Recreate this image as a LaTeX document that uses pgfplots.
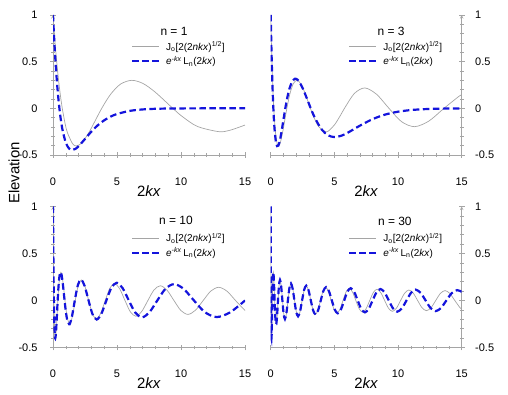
\documentclass[border=0pt]{standalone}
\usepackage{pgfplots}
\pgfplotsset{compat=1.18}
\usepackage{fontspec}
\setmainfont{Liberation Sans}
\definecolor{bl}{RGB}{20,20,220}
\definecolor{gr}{RGB}{165,165,165}
\definecolor{ax}{RGB}{165,165,165}
\pgfplotsset{
  panel/.style={
    scale only axis, width=192bp, height=140bp,
    xmin=0, xmax=15, ymin=-0.5, ymax=1,
    xtick={0,5,10,15}, ytick={-0.5,0,0.5,1},
    minor x tick num=4, minor y tick num=4,
    axis x line=bottom,
    axis line style={-, draw=ax, line width=0.6bp},
    every tick/.style={draw=ax, line width=0.5bp},
    tick align=center, major tick length=6bp, minor tick length=4bp,
    /pgf/number format/assume math mode=true,
    tick label style={font=\fontsize{11}{13}\selectfont},
    xticklabel style={yshift=-16bp},
    xlabel={2\textit{kx}},
    xlabel style={font=\fontsize{15}{18}\selectfont, at={(axis description cs:0.5,0)}, anchor=center, yshift=-36bp},
    legend style={draw=none, fill=none, at={(axis description cs:0.405,0.82)}, anchor=north west,
      font=\fontsize{10}{11}\selectfont, row sep=2.5bp, column sep=5bp, inner sep=0pt, nodes={inner sep=1bp}},
    legend cell align=left,
    legend image code/.code={\draw[#1] (0bp,0bp) -- (27bp,0bp);},
  },
  leftp/.style={panel, axis y line=left, yticklabel style={xshift=-9bp}},
  rightp/.style={panel, axis y line=right, yticklabel style={xshift=7bp}},
  gline/.style={draw=gr, line width=0.7bp, smooth, mark=none},
  bline/.style={draw=bl, line width=2.2bp, dash pattern=on 6.5bp off 3.5bp, smooth, mark=none},
}
\newcommand{\legJ}{J\textsubscript{o}[2(2\textit{nkx})\textsuperscript{1/2}]}
\newcommand{\legL}{\textit{e}\textsuperscript{\textit{-kx}}\,L\textsubscript{n}(2\textit{kx})}
\begin{document}
\begin{tikzpicture}
\path[use as bounding box] (0bp,0bp) rectangle (508bp,395bp);
\node[rotate=90, font=\fontsize{15}{18}\selectfont] at (14bp,222bp) {Elevation};

% ---------------- n = 1
\begin{axis}[leftp, at={(53bp,240bp)}, anchor=south west]
\addplot[gline] coordinates {(0,1) (0.0078,0.9844) (0.0313,0.9385) (0.0703,0.8642) (0.125,0.7652) (0.1953,0.6459) (0.2813,0.5118) (0.3828,0.3690) (0.5,0.2239) (0.6328,0.0827) (0.7229,0) (0.9453,-0.1641) (1.125,-0.2601) (1.5313,-0.3801) (1.8353,-0.4028) (2.2578,-0.3691) (2.8203,-0.2551) (3.125,-0.1776) (3.8089,0) (4.5,0.1506) (5.2813,0.2601) (6.1523,0.3001) (7.0313,0.2663) (8.0,0.1717) (9.3608,0) (10.125,-0.0903) (11.2813,-0.1939) (12.9375,-0.2497) (13.7813,-0.2366) (15.0,-0.1793)};
\addlegendentry{\legJ}
\addplot[bline] coordinates {(0,1) (0.1,0.7239) (0.2,0.4912) (0.3,0.2963) (0.4,0.1341) (0.5,0) (0.6,-0.1098) (0.75,-0.2362) (1.0,-0.3679) (1.25,-0.4298) (1.5,-0.4463) (1.75,-0.4344) (2.0,-0.4060) (2.5,-0.3283) (3.0,-0.2489) (3.5,-0.1812) (4.0,-0.1282) (4.5,-0.0889) (5.0,-0.0606) (6.0,-0.0273) (7.0,-0.0119) (8.0,-0.0050) (9.0,-0.0021) (10.0,-0.0009) (12.0,-0.0001) (15.0,0)};
\addlegendentry{\legL}
\node[font=\fontsize{12}{14}\selectfont] at (axis description cs:0.63,0.885) {n = 1};
\end{axis}

% ---------------- n = 3
\begin{axis}[rightp, at={(270.7bp,240bp)}, anchor=south west, width=191bp]
\addplot[gline] coordinates {(0,1) (0.0104,0.9385) (0.0234,0.8642) (0.0417,0.7652) (0.0651,0.6459) (0.0938,0.5118) (0.1276,0.3690) (0.1667,0.2239) (0.2109,0.0827) (0.2410,0) (0.3151,-0.1641) (0.375,-0.2601) (0.5104,-0.3801) (0.6117,-0.4028) (0.7526,-0.3691) (0.9401,-0.2551) (1.0417,-0.1776) (1.2696,0) (1.5,0.1506) (1.7604,0.2601) (2.0508,0.3001) (2.3438,0.2663) (2.6667,0.1717) (3.1203,0) (3.375,-0.0903) (3.7604,-0.1939) (4.3125,-0.2497) (4.5938,-0.2366) (5.0417,-0.1712) (5.5104,-0.0677) (5.7933,0) (6.5706,0.1592) (7.3967,0.2184) (8.3160,0.1501) (9.2887,0) (10.2714,-0.1424) (11.3034,-0.1965) (12.4284,-0.1358) (13.6070,0) (14.7950,0.1300) (15.0,0.1438)};
\addlegendentry{\legJ}
\addplot[bline] coordinates {(0,1) (0.05,0.6800) (0.1,0.4150) (0.15,0.1984) (0.2,0.0240) (0.25,-0.1136) (0.3,-0.2193) (0.4,-0.3521) (0.5,-0.4044) (0.6,-0.3995) (0.7,-0.3562) (0.8,-0.2888) (0.9,-0.2082) (1.0,-0.1226) (1.1,-0.0382) (1.2,0.0410) (1.35,0.1438) (1.5,0.2231) (1.7,0.2903) (1.9,0.3163) (2.0,0.3158) (2.2,0.2928) (2.5,0.2189) (2.8,0.1198) (3.0,0.0498) (3.2,-0.0184) (3.5,-0.1107) (4.0,-0.2259) (4.5,-0.2888) (5.0,-0.3077) (5.5,-0.2956) (6.0,-0.2652) (7.0,-0.1863) (8.0,-0.1160) (9.0,-0.0665) (10.0,-0.0360) (11.0,-0.0186) (12.0,-0.0093) (13.0,-0.0045) (14.0,-0.0021) (15.0,-0.0010)};
\addlegendentry{\legL}
\node[font=\fontsize{12}{14}\selectfont] at (axis description cs:0.63,0.885) {n = 3};
\end{axis}

% ---------------- n = 10
\begin{axis}[leftp, at={(53bp,47.5bp)}, anchor=south west, height=141bp]
\addplot[gline] coordinates {(0,1) (0.0031,0.9385) (0.0125,0.7652) (0.0281,0.5118) (0.05,0.2239) (0.0723,0) (0.0945,-0.1641) (0.1125,-0.2601) (0.1531,-0.3801) (0.1835,-0.4028) (0.2258,-0.3691) (0.2820,-0.2551) (0.3125,-0.1776) (0.3809,0) (0.45,0.1506) (0.5281,0.2601) (0.6152,0.3001) (0.7031,0.2663) (0.8,0.1717) (0.9361,0) (1.0125,-0.0903) (1.1281,-0.1939) (1.2938,-0.2497) (1.3781,-0.2366) (1.5125,-0.1712) (1.6531,-0.0677) (1.7380,0) (1.9711,0.1592) (2.2190,0.2184) (2.4948,0.1501) (2.7866,0) (3.0814,-0.1424) (3.3910,-0.1965) (3.7285,-0.1358) (4.0820,0) (4.4385,0.1300) (4.8098,0.1801) (5.2090,0.1249) (5.6241,0) (6.0423,-0.1203) (6.4753,-0.1672) (6.9363,-0.1162) (7.4130,0) (7.8928,0.1126) (8.3875,0.1567) (8.9103,0.1092) (9.4486,0) (9.9900,-0.1061) (10.5465,-0.1480) (11.1309,-0.1033) (11.7310,0) (12.3341,0.1007) (12.9522,0.1406) (13.5984,0.0982) (14.2600,0) (14.9249,-0.0960) (15.0,-0.1034)};
\addlegendentry{\legJ}
\addplot[bline] coordinates {(0,1) (0.0030,0.9385) (0.0119,0.7652) (0.0268,0.5118) (0.0477,0.2239) (0.0689,0) (0.0902,-0.1641) (0.1073,-0.2603) (0.1462,-0.3806) (0.1753,-0.4034) (0.2158,-0.3697) (0.2698,-0.2556) (0.2990,-0.1780) (0.3648,0) (0.4315,0.1511) (0.5071,0.2611) (0.5915,0.3015) (0.6769,0.2677) (0.7714,0.1728) (0.9045,0) (0.9796,-0.0910) (1.0935,-0.1956) (1.2574,-0.2522) (1.3413,-0.2392) (1.4753,-0.1733) (1.6162,-0.0686) (1.7016,0) (1.9375,0.1618) (2.1904,0.2225) (2.4744,0.1533) (2.7781,0) (3.0883,-0.1463) (3.4178,-0.2025) (3.7817,-0.1405) (4.1681,0) (4.5634,0.1356) (4.9816,0.1887) (5.4387,0.1316) (5.9257,0) (6.4253,-0.1282) (6.9545,-0.1794) (7.5321,-0.1257) (8.1464,0) (8.7837,0.1240) (9.4634,0.1745) (10.2093,0.1232) (11.0124,0) (11.8617,-0.1236) (12.7871,-0.1762) (13.8312,-0.1265) (15.0,0)};
\addlegendentry{\legL}
\node[font=\fontsize{12}{14}\selectfont] at (axis description cs:0.64,0.9) {n = 10};
\end{axis}

% ---------------- n = 30
\begin{axis}[rightp, at={(270.7bp,47.5bp)}, anchor=south west, width=191bp, height=141bp]
\addplot[gline] coordinates {(0,1) (0.0010,0.9385) (0.0042,0.7652) (0.0094,0.5118) (0.0167,0.2239) (0.0241,0) (0.0375,-0.2601) (0.0510,-0.3801) (0.0612,-0.4028) (0.0844,-0.3205) (0.1042,-0.1776) (0.1270,0) (0.15,0.1506) (0.1760,0.2601) (0.2051,0.3001) (0.2344,0.2663) (0.2667,0.1717) (0.3120,0) (0.3375,-0.0903) (0.3760,-0.1939) (0.4313,-0.2497) (0.4594,-0.2366) (0.5042,-0.1712) (0.5510,-0.0677) (0.5793,0) (0.6570,0.1592) (0.7397,0.2184) (0.8316,0.1501) (0.9289,0) (1.0271,-0.1424) (1.1303,-0.1965) (1.2428,-0.1358) (1.3607,0) (1.4795,0.1300) (1.6033,0.1801) (1.7363,0.1249) (1.8747,0) (2.0141,-0.1203) (2.1584,-0.1672) (2.3121,-0.1162) (2.4710,0) (2.6309,0.1126) (2.7958,0.1567) (2.9701,0.1092) (3.1495,0) (3.3300,-0.1061) (3.5155,-0.1480) (3.7103,-0.1033) (3.9103,0) (4.1114,0.1007) (4.3174,0.1406) (4.5328,0.0982) (4.7533,0) (4.9749,-0.0960) (5.2015,-0.1342) (5.4375,-0.0939) (5.6795,0) (5.9208,0.0919) (6.1680,0.1286) (6.4244,0.0900) (6.6862,0) (6.9489,-0.0883) (7.2175,-0.1236) (7.4937,-0.0866) (7.7759,0) (8.0592,0.0851) (8.3475,0.1192) (8.6451,0.0836) (8.9480,0) (9.2518,-0.0822) (9.5606,-0.1153) (9.8788,-0.0809) (10.2022,0) (10.5266,0.0796) (10.8560,0.1117) (11.1948,0.0784) (11.5388,0) (11.8837,-0.0772) (12.2355,-0.1084) (12.5948,-0.0761) (12.9593,0) (13.3244,0.0750) (13.6946,0.1054) (14.0746,0.0740) (14.4598,0) (14.8453,-0.0730) (15.0,-0.0915)};
\addlegendentry{\legJ}
\addplot[bline] coordinates {(0,1) (0.0010,0.9385) (0.0041,0.7652) (0.0092,0.5118) (0.0164,0.2239) (0.0237,0) (0.0369,-0.2601) (0.0502,-0.3801) (0.0602,-0.4028) (0.0740,-0.3691) (0.0830,-0.3205) (0.1025,-0.1776) (0.1250,0) (0.1477,0.1506) (0.1733,0.2602) (0.2019,0.3003) (0.2308,0.2665) (0.2627,0.1718) (0.3074,0) (0.3326,-0.0904) (0.3706,-0.1941) (0.4252,-0.2500) (0.4530,-0.2369) (0.4972,-0.1714) (0.5436,-0.0678) (0.5716,0) (0.6486,0.1595) (0.7305,0.2188) (0.8216,0.1504) (0.9183,0) (1.0159,-0.1428) (1.1187,-0.1971) (1.2308,-0.1363) (1.3483,0) (1.4670,0.1305) (1.5908,0.1809) (1.7242,0.1255) (1.8630,0) (2.0031,-0.1210) (2.1483,-0.1682) (2.3033,-0.1169) (2.4638,0) (2.6256,0.1134) (2.7928,0.1579) (2.9698,0.1101) (3.1525,0) (3.3366,-0.1071) (3.5262,-0.1495) (3.7258,-0.1044) (3.9312,0) (4.1381,0.1019) (4.3508,0.1423) (4.5736,0.0995) (4.8024,0) (5.0329,-0.0974) (5.2692,-0.1362) (5.5159,-0.0954) (5.7698,0) (6.0237,0.0935) (6.2846,0.1310) (6.5561,0.0917) (6.8341,0) (7.1141,-0.0902) (7.4013,-0.1263) (7.6977,-0.0886) (8.0017,0) (8.3079,0.0872) (8.6207,0.1223) (8.9449,0.0859) (9.2760,0) (9.6097,-0.0846) (9.9402,-0.1188) (10.3025,-0.0835) (10.6621,0) (11.0244,0.0824) (11.3792,0.1157) (11.7759,0.0813) (12.1656,0) (12.5582,-0.0803) (12.9610,-0.1129) (13.3735,-0.0794) (13.7946,0) (14.2188,0.0785) (14.6413,0.1105) (15.0,0.0918)};
\addlegendentry{\legL}
\node[font=\fontsize{12}{14}\selectfont] at (axis description cs:0.65,0.895) {n = 30};
\end{axis}
\end{tikzpicture}
\end{document}
